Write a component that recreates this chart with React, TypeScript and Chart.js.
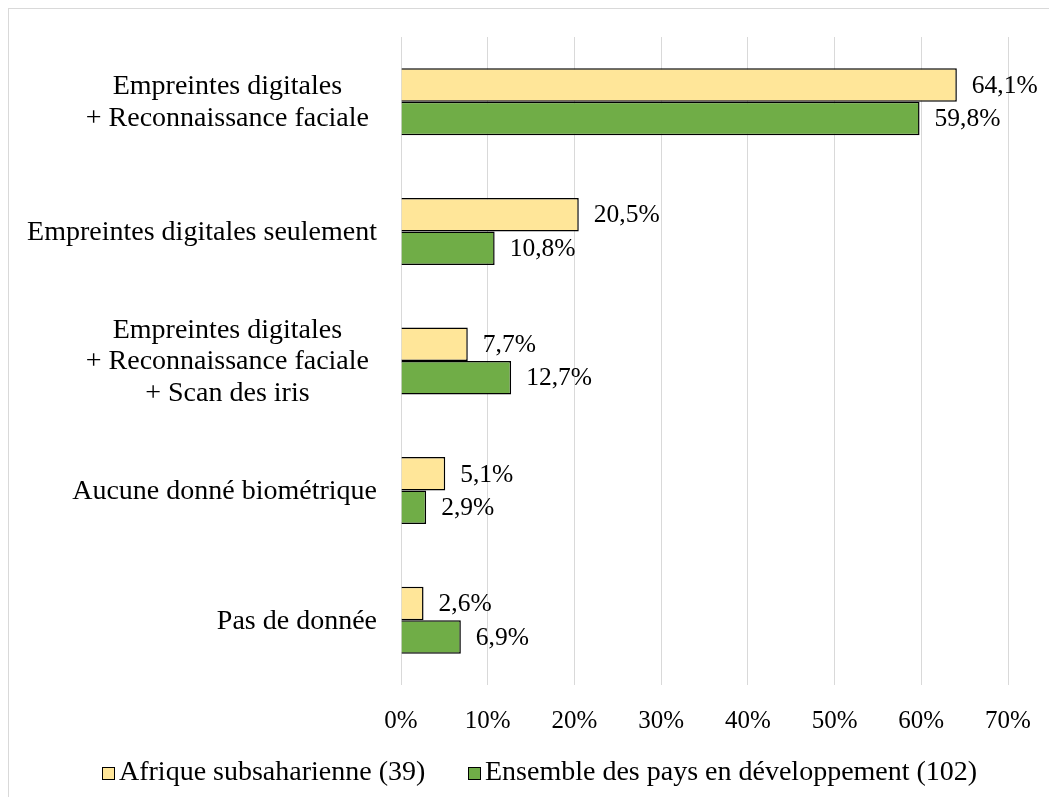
import React, { useEffect, useRef } from "react";
import { Chart, registerables } from "chart.js";

Chart.register(...registerables);

const categories: string[][] = [
  ["Empreintes digitales", "+ Reconnaissance faciale"],
  ["Empreintes digitales seulement"],
  ["Empreintes digitales", "+ Reconnaissance faciale", "+ Scan des iris"],
  ["Aucune donné biométrique"],
  ["Pas de donnée"],
];
const afriqueValues = [64.1, 20.5, 7.7, 5.1, 2.6];
const ensembleValues = [59.8, 10.8, 12.7, 2.9, 6.9];
const seriesNames = ["Afrique subsaharienne (39)", "Ensemble des pays en développement (102)"];
const seriesColors = ["#FFE699", "#70AD47"];
const xTicks = [0, 10, 20, 30, 40, 50, 60, 70];

const FONT = "'Liberation Serif', 'Times New Roman', serif";

const labelPlugin = {
  id: "customLabels",
  afterDatasetsDraw(chart: any) {
    const ctx = chart.ctx;
    ctx.save();
    ctx.font = `25.5px ${FONT}`;
    ctx.fillStyle = "#000";
    ctx.textBaseline = "middle";
    ctx.textAlign = "left";
    chart.data.datasets.forEach((ds: any, di: number) => {
      const meta = chart.getDatasetMeta(di);
      meta.data.forEach((el: any, i: number) => {
        const v = ds.data[i] as number;
        const txt = v.toFixed(1).replace(".", ",") + "%";
        ctx.fillText(txt, el.x + 15, el.y + 1);
      });
    });
    ctx.restore();
  },
  afterDraw(chart: any) {
    const ctx = chart.ctx;
    const yScale = chart.scales.y;
    ctx.save();
    ctx.font = `28px ${FONT}`;
    ctx.fillStyle = "#000";
    ctx.textBaseline = "middle";
    ctx.textAlign = "center";
    const lh = 31.5;
    categories.forEach((lines, i) => {
      const rightEdge = lines.length > 1 ? 360 : 368;
      const y = yScale.getPixelForValue(i);
      const maxW = Math.max(...lines.map((l) => ctx.measureText(l).width));
      const cx = rightEdge - maxW / 2;
      lines.forEach((l, j) => {
        ctx.fillText(l, cx, y + (j - (lines.length - 1) / 2) * lh + 1);
      });
    });
    // legend
    const base = 771;
    const items = [
      { x: 93, name: seriesNames[0], color: seriesColors[0] },
      { x: 459, name: seriesNames[1], color: seriesColors[1] },
    ];
    ctx.textAlign = "left";
    ctx.textBaseline = "alphabetic";
    items.forEach((it) => {
      ctx.fillStyle = it.color;
      ctx.fillRect(it.x, base - 13, 13, 13);
      ctx.strokeStyle = "#000";
      ctx.lineWidth = 1;
      ctx.strokeRect(it.x + 0.5, base - 12.5, 12, 12);
      ctx.fillStyle = "#000";
      ctx.fillText(it.name, it.x + 17, base);
    });
    ctx.restore();
  },
};

export default function App() {
  const ref = useRef<HTMLCanvasElement>(null);
  useEffect(() => {
    if (!ref.current) return;
    const chart = new Chart(ref.current, {
      type: "bar",
      data: {
        labels: categories.map((c) => c.join(" ")),
        datasets: [
          {
            label: seriesNames[0],
            data: afriqueValues,
            backgroundColor: seriesColors[0],
            borderColor: "#000",
            borderWidth: 1.5,
            categoryPercentage: 0.517,
            barPercentage: 1,
          },
          {
            label: seriesNames[1],
            data: ensembleValues,
            backgroundColor: seriesColors[1],
            borderColor: "#000",
            borderWidth: 1.5,
            categoryPercentage: 0.517,
            barPercentage: 1,
          },
        ],
      },
      options: {
        indexAxis: "y",
        responsive: false,
        animation: false,
        maintainAspectRatio: false,
        layout: { padding: { top: 28, right: 41, left: 0, bottom: 0 } },
        plugins: {
          legend: { display: false },
          tooltip: { enabled: false },
        },
        scales: {
          x: {
            min: 0,
            max: 70,
            afterBuildTicks: (s: any) => {
              s.ticks = xTicks.map((v) => ({ value: v }));
            },
            afterFit: (s: any) => {
              s.height = 112;
              s.paddingRight = 0;
              s.paddingLeft = 0;
            },
            grid: { color: "#d9d9d9", lineWidth: 1, drawTicks: false },
            border: { display: false },
            ticks: {
              padding: 21,
              color: "#000",
              font: { family: FONT, size: 25 },
              callback: (v: any) => v + "%",
            },
          },
          y: {
            afterFit: (s: any) => {
              s.width = 392;
            },
            grid: { display: false },
            border: { display: false },
            ticks: { display: false },
          },
        },
      },
      plugins: [labelPlugin],
    } as any);
    return () => chart.destroy();
  }, []);
  return (
    <div
      style={{
        borderTop: "1px solid #d9d9d9",
        borderLeft: "1px solid #d9d9d9",
        width: 1040,
        height: 788,
        background: "#fff",
      }}
    >
      <canvas ref={ref} width={1040} height={788} style={{ display: "block" }} />
    </div>
  );
}
